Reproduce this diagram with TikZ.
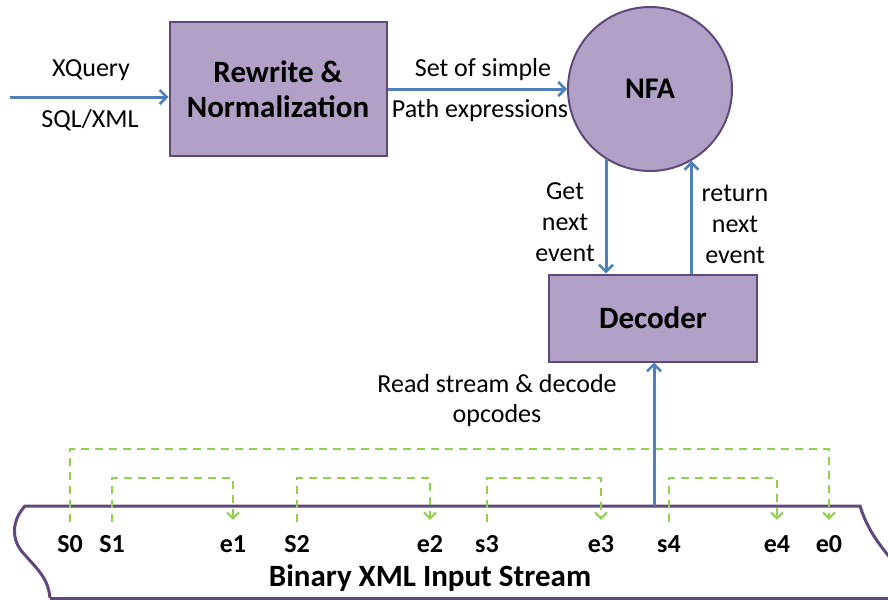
\documentclass[tikz,border=0pt]{standalone}
\usepackage{fontspec}
\setmainfont{Carlito}
\usetikzlibrary{arrows.meta,calc}
\definecolor{boxfill}{HTML}{B2A1C7}
\definecolor{boxline}{HTML}{5F497A}
\definecolor{flow}{HTML}{4F81BD}
\definecolor{gline}{HTML}{92D050}
\begin{document}
\begin{tikzpicture}[x=1pt,y=-1pt,
  blk/.style={draw=boxline,fill=boxfill,line width=2pt,align=center,inner sep=0},
  lbl/.style={font=\fontsize{26}{31}\selectfont,align=center,inner sep=0},
  slbl/.style={font=\fontsize{26}{28}\selectfont\bfseries,inner sep=0,text height=15pt,text depth=0pt,anchor=base},
  flowarrow/.style={draw=flow,line width=3pt,-{Straight Barb[length=7pt,width=14pt,line width=2.6pt]}},
  gdash/.style={draw=gline,line width=2.2pt,dash pattern=on 8pt off 6pt,-{Straight Barb[length=6pt,width=12pt,line width=2pt]}}]
\useasboundingbox (0,0) rectangle (888,600);
% nodes
\node[blk,minimum width=217,minimum height=134,font=\fontsize{31}{35}\selectfont\bfseries] (rw) at (278,89) {Rewrite \&\\Normalization};
\node[blk,circle,minimum size=164,font=\fontsize{30}{34}\selectfont\bfseries] (nfa) at (650,89) {NFA};
\node[blk,minimum width=208,minimum height=87,font=\fontsize{31}{34}\selectfont\bfseries] (dec) at (653,318) {Decoder};
% labels
\node[lbl] (xq) at (91,70) {XQuery};
\node[lbl] (sql) at (90,120) {SQL/XML};
\node[lbl] (set) at (483,70) {Set of simple};
\node[lbl] (path) at (480,111) {Path expressions};
\node[lbl] (get) at (565,222) {Get\\next\\event};
\node[lbl] (ret) at (735,224) {return\\next\\event};
\node[lbl,font=\fontsize{26}{30}\selectfont] (read) at (497,401) {Read stream \& decode\\opcodes};
% stream shape
\fill[white] (25,506) -- (870,506) -- (888,540) -- (888,598) -- (50,598) -- cycle;
\draw[boxline,line width=3pt] (50,598) .. controls (48,578) and (38,570) .. (25,555)
  .. controls (10,540) and (12,520) .. (25,506) -- (860,506)
  .. controls (866,525) and (875,540) .. (892,560);
\draw[boxline,line width=3pt] (50,598) -- (888,598);
\coordinate (stop) at (654,506);
\node[font=\fontsize{31}{34}\selectfont\bfseries,inner sep=0] (bin) at (430,578) {Binary XML Input Stream};
% stream labels
\node[slbl] (s0) at (70,552) {S0};
\node[slbl] (s1) at (112,552) {S1};
\node[slbl] (e1) at (233,552) {e1};
\node[slbl] (s2) at (297,552) {S2};
\node[slbl] (e2) at (430,552) {e2};
\node[slbl] (s3) at (487,552) {s3};
\node[slbl] (e3) at (601,552) {e3};
\node[slbl] (s4) at (669,552) {s4};
\node[slbl] (e4) at (777,552) {e4};
\node[slbl] (e0) at (829,552) {e0};
\coordinate (top0) at (0,449);
\coordinate (top1) at (0,478);
% dashed connectors
\draw[gdash,shorten <=15pt,shorten >=17pt] (s0.north) -- (s0.north |- top0) -| (e0.north);
\draw[gdash,shorten <=15pt,shorten >=17pt] (s1.north) -- (s1.north |- top1) -| (e1.north);
\draw[gdash,shorten <=15pt,shorten >=17pt] (s2.north) -- (s2.north |- top1) -| (e2.north);
\draw[gdash,shorten <=15pt,shorten >=17pt] (s3.north) -- (s3.north |- top1) -| (e3.north);
\draw[gdash,shorten <=15pt,shorten >=17pt] (s4.north) -- (s4.north |- top1) -| (e4.north);
% flow arrows
\coordinate (in) at (10,97);
\draw[flowarrow] (in) -- (rw.west |- in);
\draw[flowarrow] (rw.east |- nfa.west) -- (nfa.west);
\draw[flowarrow] (nfa.238) -- (dec.north -| nfa.238);
\draw[flowarrow] (dec.north -| nfa.300) -- (nfa.300);
\draw[flowarrow] (stop) -- (dec.south -| stop);
\end{tikzpicture}
\end{document}
